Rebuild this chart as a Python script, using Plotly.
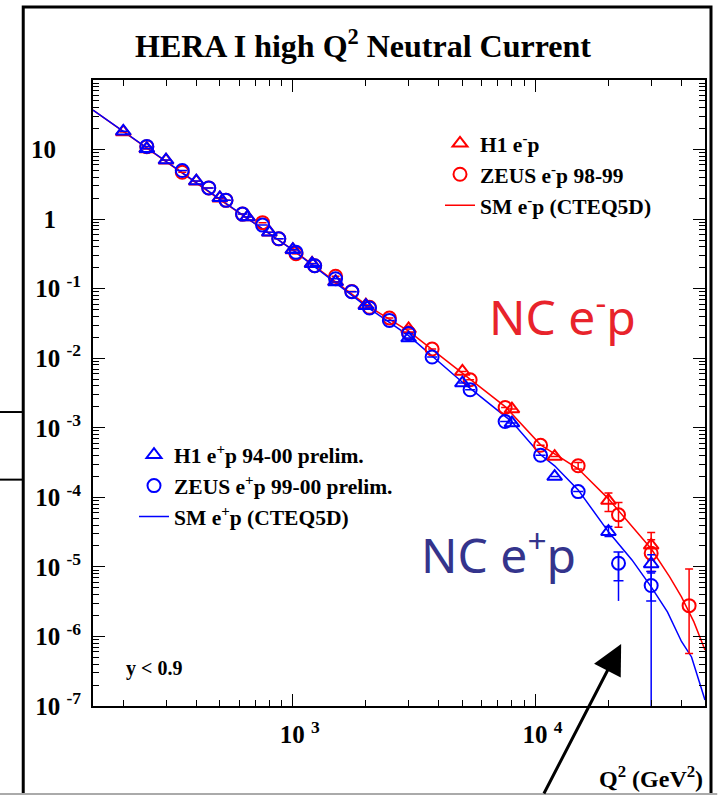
import plotly.graph_objects as go

# ---------------- data ----------------
# H1 e-p (red triangles)
h1_em_q2 = [200, 250, 300, 400, 500, 650, 800, 1000, 1200, 1500, 2000, 3000, 5000, 8000, 12000, 20000, 30000]
h1_em_xs = [17.9, 10.2, 7.0, 3.5, 2.0, 1.07, 0.645, 0.36, 0.23, 0.126, 0.058, 0.0263, 0.00646, 0.00186,
            3.86e-4, 9.0e-5, 2.04e-5]
h1_em_hi = [None] * 15 + [1.15e-4, 3.13e-5]
h1_em_lo = [None] * 15 + [6.25e-5, 1.26e-5]

# ZEUS e-p 98-99 (red circles)
zeus_em_q2 = [250, 350, 450, 530, 620, 750, 875, 1030, 1230, 1500, 1750, 2070, 2500, 3000, 3750, 5380,
              7500, 10500, 15000, 22000, 30000, 43000]
zeus_em_xs = [11.0, 4.71, 2.80, 1.86, 1.18, 0.89, 0.52, 0.318, 0.214, 0.151, 0.091, 0.054, 0.0379, 0.0232,
              0.01355, 0.0049, 0.00196, 5.6e-4, 2.84e-4, 5.6e-5, 1.57e-5, 2.77e-6]
zeus_em_hi = [None] * 18 + [3.17e-4, 8.4e-5, 2.45e-5, 9.3e-6]
zeus_em_lo = [None] * 18 + [2.55e-4, 3.7e-5, 8.55e-6, 5.7e-7]

# H1 e+p 94-00 prelim. (blue triangles)
h1_ep_q2 = [200, 250, 300, 400, 500, 650, 800, 1000, 1200, 1500, 2000, 3000, 5000, 8000, 12000, 20000, 30000]
h1_ep_xs = [18.3, 10.3, 7.06, 3.52, 2.02, 1.07, 0.645, 0.364, 0.229, 0.125, 0.0569, 0.0195, 0.0044,
            0.00117, 1.99e-4, 3.2e-5, 1.10e-5]
h1_ep_hi = [None] * 15 + [3.8e-5, 1.49e-5]
h1_ep_lo = [None] * 15 + [2.73e-5, 8.2e-6]

# ZEUS e+p 99-00 prelim. (blue circles): total and statistical bounds
zeus_ep_q2 = [250, 350, 450, 530, 620, 750, 875, 1030, 1230, 1500, 1750, 2070, 2500, 3000, 3750, 5380,
              7500, 10500, 15000, 22000, 30000]
zeus_ep_xs = [11.1, 4.99, 2.81, 1.86, 1.18, 0.82, 0.521, 0.333, 0.214, 0.139, 0.0906, 0.0527, 0.035,
              0.0226, 0.0104, 0.00352, 0.00123, 4.02e-4, 1.21e-4, 1.13e-5, 5.4e-6]
zeus_ep_hi = [None] * 19 + [1.64e-5, 8.55e-6]
zeus_ep_lo = [None] * 19 + [3.24e-6, 0.0]
zeus_ep_stat_lo = [None] * 19 + [6.3e-6, 3.24e-6]

# Standard Model expectations (CTEQ5D)
sm_em_q2 = [150, 200, 300, 500, 1000, 2000, 3000, 5000, 7500, 10500, 15000, 20000, 30000, 35700, 40000,
            45000, 50000]
sm_em_xs = [36.8, 18.2, 6.83, 1.91, 0.362, 0.0589, 0.0245, 0.00618, 0.00202, 5.69e-4, 2.57e-4, 9.5e-5,
            1.82e-5, 7.25e-6, 3.70e-6, 1.62e-6, 6.4e-7]
sm_ep_q2 = [150, 200, 300, 500, 1000, 2000, 3000, 5000, 8000, 10500, 12000, 15000, 20000, 25000, 30000,
            35000, 40000, 44000, 50000]
sm_ep_xs = [36.8, 18.2, 6.83, 1.91, 0.358, 0.056, 0.0211, 0.00452, 0.00122, 4.09e-4, 2.84e-4, 1.28e-4,
            3.19e-5, 1.26e-5, 5.15e-6, 2.25e-6, 8.47e-7, 5.07e-7, 1.22e-7]

y_tick_vals = [1e-7, 1e-6, 1e-5, 1e-4, 1e-3, 1e-2, 1e-1, 1, 10]
y_tick_text = ["10&nbsp;<sup>-7</sup>", "10&nbsp;<sup>-6</sup>", "10&nbsp;<sup>-5</sup>",
               "10&nbsp;<sup>-4</sup>", "10&nbsp;<sup>-3</sup>", "10&nbsp;<sup>-2</sup>",
               "10&nbsp;<sup>-1</sup>", "1&nbsp;&nbsp;&nbsp;&nbsp;", "10&nbsp;&nbsp;&nbsp;&nbsp;"]
x_tick_vals = [1000, 10000]
x_tick_text = ["10&nbsp;<sup>3</sup>", "10&nbsp;<sup>4</sup>"]

RED = "#ff0000"
BLUE = "#0000ff"
SERIF = "Liberation Serif"


def err_up(vals, hi):
    return [None if h is None else h - v for v, h in zip(vals, hi)]


def err_dn(vals, lo):
    return [None if l is None else v - l for v, l in zip(vals, lo)]


def minor_decades(lo_exp, hi_exp):
    return [k * 10 ** e for e in range(lo_exp, hi_exp) for k in range(2, 10)]


fig = go.Figure()

# SM curves
fig.add_trace(go.Scatter(x=sm_em_q2, y=sm_em_xs, mode="lines", line=dict(color=RED, width=1.5),
                         name="SM e<sup>-</sup>p (CTEQ5D)", legend="legend", legendgroup="c",
                         legendrank=3))
fig.add_trace(go.Scatter(x=sm_ep_q2, y=sm_ep_xs, mode="lines", line=dict(color=BLUE, width=1.5),
                         name="SM e<sup>+</sup>p (CTEQ5D)", legend="legend2", legendgroup="f",
                         legendrank=3))

# e-p data
fig.add_trace(go.Scatter(
    x=h1_em_q2, y=h1_em_xs, mode="markers", name="H1 e<sup>-</sup>p", legend="legend", legendgroup="a",
    legendrank=1,
    marker=dict(symbol="triangle-up-open", size=13, color=RED, line=dict(width=2, color=RED)),
    error_y=dict(type="data", symmetric=False, array=err_up(h1_em_xs, h1_em_hi),
                 arrayminus=err_dn(h1_em_xs, h1_em_lo), color=RED, thickness=1.5, width=4)))
fig.add_trace(go.Scatter(
    x=zeus_em_q2, y=zeus_em_xs, mode="markers", name="ZEUS e<sup>-</sup>p 98-99", legend="legend",
    legendgroup="b", legendrank=2,
    marker=dict(symbol="circle-open", size=13, color=RED, line=dict(width=2, color=RED)),
    error_y=dict(type="data", symmetric=False, array=err_up(zeus_em_xs, zeus_em_hi),
                 arrayminus=err_dn(zeus_em_xs, zeus_em_lo), color=RED, thickness=1.5, width=4)))

# e+p data
fig.add_trace(go.Scatter(
    x=h1_ep_q2, y=h1_ep_xs, mode="markers", name="H1 e<sup>+</sup>p 94-00 prelim.", legend="legend2",
    legendgroup="d", legendrank=1,
    marker=dict(symbol="triangle-up-open", size=13, color=BLUE, line=dict(width=2, color=BLUE)),
    error_y=dict(type="data", symmetric=False, array=err_up(h1_ep_xs, h1_ep_hi),
                 arrayminus=err_dn(h1_ep_xs, h1_ep_lo), color=BLUE, thickness=1.5, width=4)))
# statistical part (inner caps) of the ZEUS e+p errors
fig.add_trace(go.Scatter(
    x=zeus_ep_q2, y=zeus_ep_xs, mode="markers", showlegend=False, hoverinfo="skip",
    marker=dict(size=1, color="rgba(0,0,0,0)"),
    error_y=dict(type="data", symmetric=False, array=err_up(zeus_ep_xs, zeus_ep_hi),
                 arrayminus=err_dn(zeus_ep_xs, zeus_ep_stat_lo), color=BLUE, thickness=1.5, width=5)))
fig.add_trace(go.Scatter(
    x=zeus_ep_q2, y=zeus_ep_xs, mode="markers", name="ZEUS e<sup>+</sup>p 99-00 prelim.", legend="legend2",
    legendgroup="e", legendrank=2,
    marker=dict(symbol="circle-open", size=13, color=BLUE, line=dict(width=2, color=BLUE)),
    error_y=dict(type="data", symmetric=False, array=err_up(zeus_ep_xs, zeus_ep_hi),
                 arrayminus=err_dn(zeus_ep_xs, zeus_ep_lo), color=BLUE, thickness=1.5, width=0)))

axis_common = dict(type="log", showline=True, linecolor="black", linewidth=2, mirror="ticks",
                   ticks="inside", ticklen=12, tickwidth=1, tickcolor="black", showgrid=False,
                   zeroline=False, tickfont=dict(family=SERIF, size=25, color="black", weight="bold"))

fig.update_xaxes(range=[2.1761, 4.699], tickmode="array", tickvals=x_tick_vals, ticktext=x_tick_text,
                 ticklabelstandoff=5, ticklabelshift=7,
                 minor=dict(tickmode="array", tickvals=minor_decades(2, 5), ticks="inside", ticklen=6,
                            tickwidth=1, tickcolor="black"),
                 **axis_common)
fig.update_yaxes(range=[-7, 2], tickmode="array", tickvals=y_tick_vals, ticktext=y_tick_text,
                 ticklabelstandoff=5,
                 minor=dict(tickmode="array", tickvals=minor_decades(-7, 2), ticks="inside", ticklen=6,
                            tickwidth=1, tickcolor="black"),
                 **axis_common)

legend_font = dict(family=SERIF, size=21.5, color="black", weight="bold")
fig.update_layout(
    width=718, height=795,
    margin=dict(l=93, r=11, t=80, b=89),
    paper_bgcolor="white", plot_bgcolor="white",
    title=dict(text="HERA I high Q<sup>2</sup> Neutral Current", x=363 / 718, xanchor="center",
               y=1 - 46 / 795, yanchor="middle", xref="container", yref="container",
               font=dict(family=SERIF, size=32, color="black", weight="bold")),
    legend=dict(x=0.567, y=0.9316, xanchor="left", yanchor="top", bgcolor="rgba(0,0,0,0)",
                font=legend_font, tracegroupgap=0, traceorder="grouped", itemwidth=30),
    legend2=dict(x=0.067, y=0.4342, xanchor="left", yanchor="top", bgcolor="rgba(0,0,0,0)",
                 font=legend_font, tracegroupgap=0, traceorder="grouped", itemwidth=30),
    showlegend=True,
)

# text labels
fig.add_annotation(text="NC e<sup>-</sup>p", x=0.767, y=0.626, xref="paper", yref="paper",
                   xanchor="center", yanchor="middle", showarrow=False,
                   font=dict(family="Noto Sans", size=48, color="#e8232b"))
fig.add_annotation(text="NC e<sup>+</sup>p", x=0.663, y=0.246, xref="paper", yref="paper",
                   xanchor="center", yanchor="middle", showarrow=False,
                   font=dict(family="Noto Sans", size=48, color="#34348c"))
fig.add_annotation(text="y < 0.9", x=0.0505, y=0.0607, xref="paper", yref="paper", xanchor="left",
                   yanchor="middle", showarrow=False,
                   font=dict(family=SERIF, size=20, color="black", weight="bold"))
fig.add_annotation(text="Q<sup>2</sup> (GeV<sup>2</sup>)", x=1.0, y=-0.113, xref="paper", yref="paper",
                   xanchor="right", yanchor="middle", showarrow=False,
                   font=dict(family=SERIF, size=24, color="black", weight="bold"))

# pointer arrow
fig.add_annotation(x=0.863, y=0.099, xref="paper", yref="paper", ax=-78, ay=151, axref="pixel",
                   ayref="pixel", text="", showarrow=True, arrowhead=2, arrowsize=2.0, arrowwidth=3,
                   arrowcolor="black", standoff=0)

# outer frame and page rules
fig.add_shape(type="rect", xref="paper", yref="paper", x0=-0.114, x1=1.0098, y0=-0.16, y1=1.1166,
              line=dict(color="black", width=3), fillcolor="rgba(0,0,0,0)")
fig.add_shape(type="line", xref="paper", yref="paper", x0=-0.16, x1=1.02, y0=-0.1406, y1=-0.1406,
              line=dict(color="#aaaaaa", width=2))
for yy in (0.4696, 0.3616):
    fig.add_shape(type="line", xref="paper", yref="paper", x0=-0.16, x1=-0.114, y0=yy, y1=yy,
                  line=dict(color="black", width=2))

fig.write_html("out.html")
